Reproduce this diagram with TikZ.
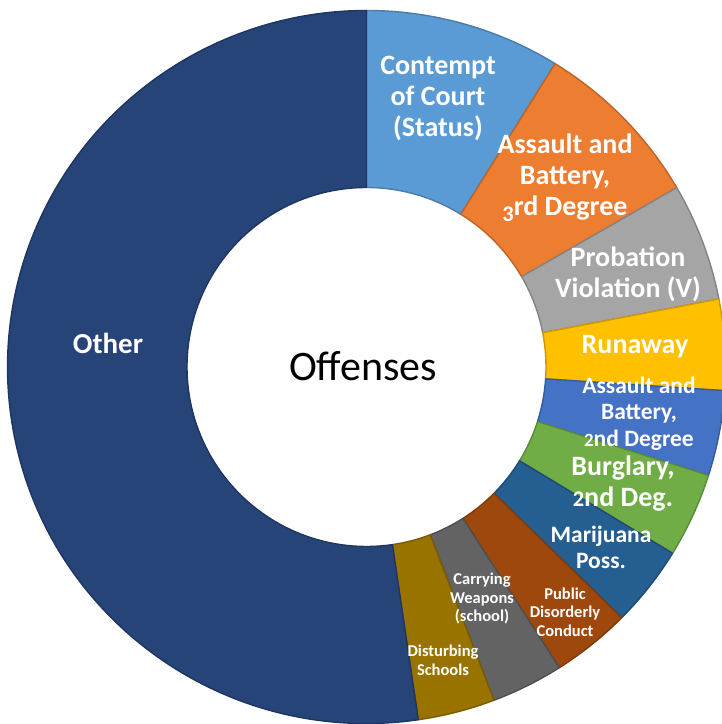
\documentclass[tikz,border=0pt]{standalone}
\usepackage{fontspec}
\setmainfont{Carlito}
\definecolor{cContempt}{HTML}{5B9BD5}
\definecolor{cAssaultIII}{HTML}{ED7D31}
\definecolor{cProbation}{HTML}{A5A5A5}
\definecolor{cRunaway}{HTML}{FFC000}
\definecolor{cAssaultII}{HTML}{4472C4}
\definecolor{cBurglary}{HTML}{70AD47}
\definecolor{cMarijuana}{HTML}{255E91}
\definecolor{cPublic}{HTML}{9E480E}
\definecolor{cCarrying}{HTML}{636363}
\definecolor{cDisturbing}{HTML}{997300}
\definecolor{cOther}{HTML}{264478}
\newcommand\donutseg[3]{%
  \path[fill=#3, draw=#3!80!black, line width=1.4pt, line join=round]
    (#1:359 and 356.5) arc[start angle=#1, end angle=#2, x radius=359, y radius=356.5]
    -- (#2:179.5) arc[start angle=#2, end angle=#1, radius=179.5] -- cycle;}
\newcommand\oldthree{\raisebox{-0.2em}{\scalebox{0.8}{3}}}
\newcommand\oldtwo{\scalebox{0.8}{2}}
\tikzset{
  lbl/.style={text=white, font=\bfseries, align=center, inner sep=0pt},
  big/.style={lbl, font=\bfseries\fontsize{28}{31}\selectfont},
  mid/.style={lbl, font=\bfseries\fontsize{23.5}{26.5}\selectfont},
  small/.style={lbl, font=\bfseries\fontsize{16.5}{18.5}\selectfont}
}
\begin{document}
\begin{tikzpicture}[x=1pt,y=1pt]
\useasboundingbox (0,0) rectangle (722,724);
\begin{scope}[shift={(366.5,357)}]
  \donutseg{90}{58.3}{cContempt}
  \donutseg{58.3}{30.2}{cAssaultIII}
  \donutseg{30.2}{11}{cProbation}
  \donutseg{11}{-3.8}{cRunaway}
  \donutseg{-3.8}{-17.7}{cAssaultII}
  \donutseg{-17.7}{-31.5}{cBurglary}
  \donutseg{-31.5}{-44.7}{cMarijuana}
  \donutseg{-44.7}{-57.5}{cPublic}
  \donutseg{-57.5}{-69.2}{cCarrying}
  \donutseg{-69.2}{-81.7}{cDisturbing}
  \donutseg{-81.7}{-270}{cOther}
\end{scope}
\node[big] (lContempt) at (438,626) {Contempt\\of Court\\(Status)};
\node[big] (lAssaultIII) at (565,546.5) {Assault and\\Battery,\\\oldthree rd Degree};
\node[big] (lProbation) at (628,450) {Probation\\Violation (V)};
\node[big] (lRunaway) at (635,377) {Runaway};
\node[mid] (lAssaultII) at (639,310.5) {Assault and\\Battery,\\\oldtwo nd Degree};
\node[big] (lBurglary) at (623,240) {Burglary,\\\oldtwo nd Deg.};
\node[mid] (lMarijuana) at (601,176.5) {Marijuana\\Poss.};
\node[small] (lPublic) at (565,112) {Public\\Disorderly\\Conduct};
\node[small] (lCarrying) at (482,125.5) {Carrying\\Weapons\\(school)};
\node[small] (lDisturbing) at (443,63.5) {Disturbing\\Schools};
\node[lbl, font=\bfseries\fontsize{29}{32}\selectfont] (lOther) at (108,381) {Other};
\node[inner sep=0pt, font=\fontsize{42}{48}\selectfont] (lTitle) at (363,358) {Offenses};
\end{tikzpicture}
\end{document}
